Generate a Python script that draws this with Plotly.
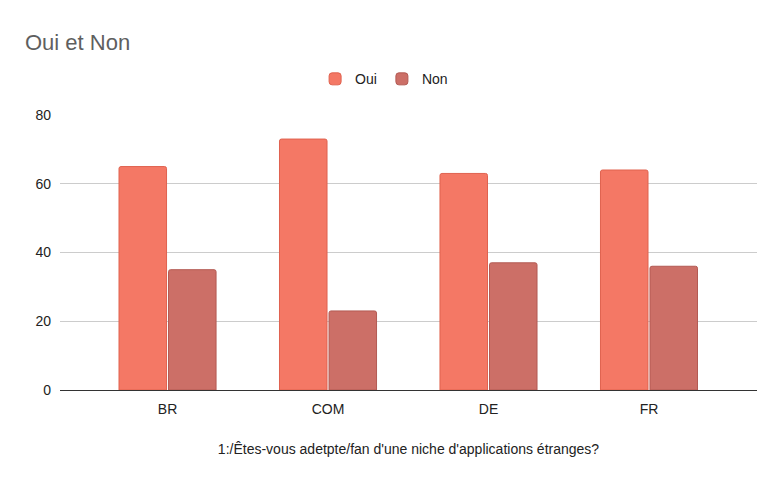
import plotly.graph_objects as go

categories = ["BR", "COM", "DE", "FR"]
oui = [65, 73, 63, 64]
non = [35, 23, 37, 36]
y_ticks = [0, 20, 40, 60, 80]

font = "Arial, Liberation Sans, sans-serif"

fig = go.Figure()
fig.add_trace(go.Bar(
    x=categories, y=oui, name="Oui",
    marker=dict(color="#f47865", line=dict(color="#e0624f", width=1)),
))
fig.add_trace(go.Bar(
    x=categories, y=non, name="Non",
    marker=dict(color="#cc6f67", line=dict(color="#b35a53", width=1)),
))

# page has an 8px body margin, so the figure is a bit smaller than the window
fig.update_layout(
    width=774, height=475,
    margin=dict(l=52, r=25, t=107, b=93),
    paper_bgcolor="white", plot_bgcolor="white",
    font=dict(family=font, size=14, color="#222222"),
    title=dict(text="Oui et Non", x=17 / 774, xanchor="left",
               y=1 - 34 / 475, yanchor="middle",
               font=dict(size=22, color="#5f5f5f")),
    barmode="group", bargap=0.383, bargroupgap=0.04, barcornerradius=2,
    legend=dict(orientation="h", x=0.465, xanchor="center", y=1.13,
                yanchor="middle", font=dict(size=14, color="#222222"),
                itemwidth=30, traceorder="normal"),
    xaxis=dict(range=[-0.67, 3.673], showgrid=False, showline=True,
               linecolor="#333333", linewidth=1, ticks="",
               ticklabelstandoff=6,
               title=dict(text="1:/Êtes-vous adetpte/fan d'une niche d'applications étranges?",
                          font=dict(size=14, color="#222222"), standoff=28)),
    yaxis=dict(range=[0, 80], tickvals=y_ticks, showgrid=True,
               gridcolor="#cccccc", zeroline=False, ticks="",
               ticklabelstandoff=8),
)

fig.write_html("out.html")
